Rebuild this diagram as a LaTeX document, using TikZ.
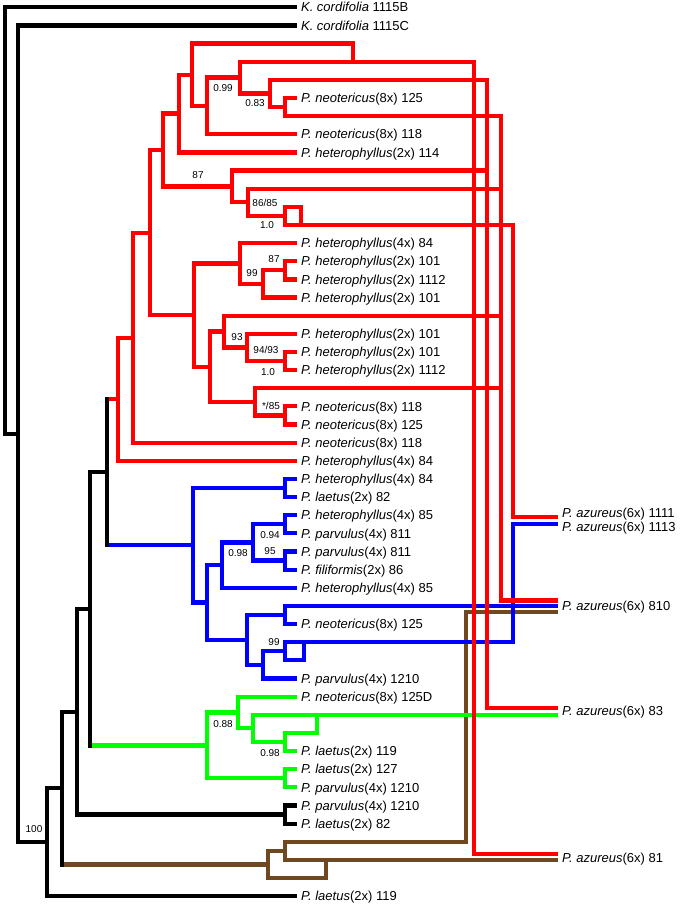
\documentclass[tikz,border=0pt]{standalone}
\usepackage{fontspec}
\setmainfont{Liberation Sans}
\usepackage{tikz}
\usepackage{xcolor}
\definecolor{brn}{RGB}{112,72,32}

\begin{document}
\begin{tikzpicture}[x=1pt,y=-18.14pt,line width=4.2pt,
    leaf/.style={anchor=west,inner xsep=2pt,inner ysep=0pt,text height=9.4pt,text depth=0pt,
      font=\fontsize{13}{15}\selectfont},
    supp/.style={inner sep=0pt,font=\fontsize{10}{12}\selectfont}]
  \useasboundingbox (0,-0.4024) rectangle (680,49.487);

  % tips
  \node [leaf] (t0) at (297,0) {\textit{K. cordifolia} 1115B};
  \node [leaf] (t1) at (297,1) {\textit{K. cordifolia} 1115C};
  \node [leaf] (t5) at (297,5) {\textit{P. neotericus}(8x) 125};
  \node [leaf] (t7) at (297,7) {\textit{P. neotericus}(8x) 118};
  \node [leaf] (t8) at (297,8) {\textit{P. heterophyllus}(2x) 114};
  \node [leaf] (t13) at (297,13) {\textit{P. heterophyllus}(4x) 84};
  \node [leaf] (t14) at (297,14) {\textit{P. heterophyllus}(2x) 101};
  \node [leaf] (t15) at (297,15) {\textit{P. heterophyllus}(2x) 1112};
  \node [leaf] (t16) at (297,16) {\textit{P. heterophyllus}(2x) 101};
  \node [leaf] (t18) at (297,18) {\textit{P. heterophyllus}(2x) 101};
  \node [leaf] (t19) at (297,19) {\textit{P. heterophyllus}(2x) 101};
  \node [leaf] (t20) at (297,20) {\textit{P. heterophyllus}(2x) 1112};
  \node [leaf] (t22) at (297,22) {\textit{P. neotericus}(8x) 118};
  \node [leaf] (t23) at (297,23) {\textit{P. neotericus}(8x) 125};
  \node [leaf] (t24) at (297,24) {\textit{P. neotericus}(8x) 118};
  \node [leaf] (t25) at (297,25) {\textit{P. heterophyllus}(4x) 84};
  \node [leaf] (t26) at (297,26) {\textit{P. heterophyllus}(4x) 84};
  \node [leaf] (t27) at (297,27) {\textit{P. laetus}(2x) 82};
  \node [leaf] (t28) at (297,28) {\textit{P. heterophyllus}(4x) 85};
  \node [leaf] (t29) at (297,29) {\textit{P. parvulus}(4x) 811};
  \node [leaf] (t30) at (297,30) {\textit{P. parvulus}(4x) 811};
  \node [leaf] (t31) at (297,31) {\textit{P. filiformis}(2x) 86};
  \node [leaf] (t32) at (297,32) {\textit{P. heterophyllus}(4x) 85};
  \node [leaf] (t34) at (297,34) {\textit{P. neotericus}(8x) 125};
  \node [leaf] (t37) at (297,37) {\textit{P. parvulus}(4x) 1210};
  \node [leaf] (t38) at (297,38) {\textit{P. neotericus}(8x) 125D};
  \node [leaf] (t41) at (297,41) {\textit{P. laetus}(2x) 119};
  \node [leaf] (t42) at (297,42) {\textit{P. laetus}(2x) 127};
  \node [leaf] (t43) at (297,43) {\textit{P. parvulus}(4x) 1210};
  \node [leaf] (t44) at (297,44) {\textit{P. parvulus}(4x) 1210};
  \node [leaf] (t45) at (297,45) {\textit{P. laetus}(2x) 82};
  \node [leaf] (t49) at (297,49) {\textit{P. laetus}(2x) 119};

  % hybrid tips
  \node [leaf] (a1111) at (558,27.88) {\textit{P. azureus}(6x) 1111};
  \node [leaf] (a1113) at (558,28.65) {\textit{P. azureus}(6x) 1113};
  \node [leaf] (a810) at (558,33) {\textit{P. azureus}(6x) 810};
  \node [leaf] (a83) at (558,38.79) {\textit{P. azureus}(6x) 83};
  \node [leaf] (a81) at (558,46.9) {\textit{P. azureus}(6x) 81};
  \coordinate (e1111) at (558,28.1);
  \coordinate (e1113) at (558,28.48);
  \coordinate (e810r) at (558,32.7);
  \coordinate (e810n) at (558,33.34);
  \coordinate (e83r) at (558,38.63);
  \coordinate (e83g) at (558,39);
  \coordinate (e81r) at (558,46.68);
  \coordinate (e81n) at (558,47);

  % internal nodes
  \coordinate (root) at (5,11.76);
  \coordinate (nA) at (18,23.51);
  \coordinate (nB) at (47,46.02);
  \coordinate (nC) at (62,43.04);
  \coordinate (nD) at (77,38.83);
  \coordinate (nE) at (90,33.16);
  \coordinate (nF) at (107,25.63);
  \coordinate (nK) at (285,44.5);

  \coordinate (r0) at (118,21.6);
  \coordinate (r1) at (133,18.21);
  \coordinate (r2) at (150,12.42);
  \coordinate (r3) at (163,7.87);
  \coordinate (r5) at (179,5.86);
  \coordinate (r7) at (192,3.72);
  \coordinate (r8) at (207,5.44);
  \coordinate (r9) at (240,3.875);
  \coordinate (r10) at (270,4.75);
  \coordinate (r11) at (285,5.5);
  \coordinate (r6) at (232,9.875);
  \coordinate (r12) at (248,10.75);
  \coordinate (r13) at (285,11.5);
  \coordinate (r4) at (194,16.97);
  \coordinate (r14) at (240,14.125);
  \coordinate (r16) at (263,15.25);
  \coordinate (r17) at (285,14.5);
  \coordinate (r15) at (210,19.81);
  \coordinate (r18) at (224,17.875);
  \coordinate (r20) at (247,18.75);
  \coordinate (r21) at (285,19.5);
  \coordinate (r19) at (255,21.75);
  \coordinate (r22) at (285,22.5);

  \coordinate (b0) at (193,29.66);
  \coordinate (b1) at (285,26.5);
  \coordinate (b2) at (207,32.81);
  \coordinate (b3) at (222,30.75);
  \coordinate (b5) at (253,29.5);
  \coordinate (b6) at (285,28.5);
  \coordinate (b7) at (285,30.5);
  \coordinate (b4) at (247,34.875);
  \coordinate (b8) at (285,33.5);
  \coordinate (b9) at (263,36.25);
  \coordinate (b10) at (285,35.5);

  \coordinate (g0) at (207,40.69);
  \coordinate (g1) at (238,38.875);
  \coordinate (g3) at (253,39.75);
  \coordinate (g4) at (285,40.5);
  \coordinate (g2) at (285,42.5);

  \coordinate (n0) at (268,47.25);
  \coordinate (n1) at (285,46.5);

  % brown
  \draw [brn] (nC) |- (n0);
  \draw [brn] (n0) |- (n1);
  \draw [brn] (n0) |- (326,48) -- (326,47);
  \draw [brn] (n1) |- (466,46) |- (e810n);
  \draw [brn] (n1) |- (e81n);

  % green
  \draw [green] (nE) |- (g0);
  \draw [green] (g0) |- (g1);
  \draw [green] (g0) |- (g2);
  \draw [green] (g1) |- (t38.west);
  \draw [green] (g1) |- (g3);
  \draw [green] (g3) |- (e83g);
  \draw [green] (g3) |- (g4);
  \draw [green] (g4) |- (317,40) -- (317,39);
  \draw [green] (g4) |- (t41.west);
  \draw [green] (g2) |- (t42.west);
  \draw [green] (g2) |- (t43.west);

  % blue
  \draw [blue] (nF) |- (b0);
  \draw [blue] (b0) |- (b1);
  \draw [blue] (b0) |- (b2);
  \draw [blue] (b1) |- (t26.west);
  \draw [blue] (b1) |- (t27.west);
  \draw [blue] (b2) |- (b3);
  \draw [blue] (b2) |- (b4);
  \draw [blue] (b3) |- (b5);
  \draw [blue] (b3) |- (t32.west);
  \draw [blue] (b5) |- (b6);
  \draw [blue] (b5) |- (b7);
  \draw [blue] (b6) |- (t28.west);
  \draw [blue] (b6) |- (t29.west);
  \draw [blue] (b7) |- (t30.west);
  \draw [blue] (b7) |- (t31.west);
  \draw [blue] (b4) |- (b8);
  \draw [blue] (b4) |- (b9);
  \draw [blue] (b8) |- (a810.west);
  \draw [blue] (b8) |- (t34.west);
  \draw [blue] (b9) |- (b10);
  \draw [blue] (b9) |- (t37.west);
  \draw [blue] (b10) |- (513,35) |- (e1113);
  \draw [blue] (b10) |- (304,36) -- (304,35);

  % red
  \draw [red] (nF) |- (r0);
  \draw [red] (r0) |- (r1);
  \draw [red] (r0) |- (t25.west);
  \draw [red] (r1) |- (r2);
  \draw [red] (r1) |- (t24.west);
  \draw [red] (r2) |- (r3);
  \draw [red] (r2) |- (r4);
  \draw [red] (r3) |- (r5);
  \draw [red] (r3) |- (r6);
  \draw [red] (r5) |- (r7);
  \draw [red] (r5) |- (t8.west);
  \draw [red] (r7) |- (353,2) -- (353,3);
  \draw [red] (r7) |- (r8);
  \draw [red] (r8) |- (r9);
  \draw [red] (r8) |- (t7.west);
  \draw [red] (r9) |- (474,3) |- (e81r);
  \draw [red] (r9) |- (r10);
  \draw [red] (r10) |- (487,4) |- (e83r);
  \draw [red] (r10) |- (r11);
  \draw [red] (r11) |- (t5.west);
  \draw [red] (r11) |- (501,6) |- (e810r);
  \draw [red] (r6) |- (487,9);
  \draw [red] (r6) |- (r12);
  \draw [red] (r12) |- (501,10);
  \draw [red] (r12) |- (r13);
  \draw [red] (r13) |- (301,11) -- (301,12);
  \draw [red] (r13) |- (513,12) |- (e1111);
  \draw [red] (r4) |- (r14);
  \draw [red] (r4) |- (r15);
  \draw [red] (r14) |- (t13.west);
  \draw [red] (r14) |- (r16);
  \draw [red] (r16) |- (r17);
  \draw [red] (r16) |- (t16.west);
  \draw [red] (r17) |- (t14.west);
  \draw [red] (r17) |- (t15.west);
  \draw [red] (r15) |- (r18);
  \draw [red] (r15) |- (r19);
  \draw [red] (r18) |- (501,17);
  \draw [red] (r18) |- (r20);
  \draw [red] (r20) |- (t18.west);
  \draw [red] (r20) |- (r21);
  \draw [red] (r21) |- (t19.west);
  \draw [red] (r21) |- (t20.west);
  \draw [red] (r19) |- (501,21);
  \draw [red] (r19) |- (r22);
  \draw [red] (r22) |- (t22.west);
  \draw [red] (r22) |- (t23.west);

  % backbone
  \draw (root) |- (t0.west);
  \draw (root) |- (nA);
  \draw (nA) |- (t1.west);
  \draw (nA) |- (nB);
  \draw (nB) |- (nC);
  \draw (nB) |- (t49.west);
  \draw (nC) |- (nD);
  \draw [line cap=rect] (nC) -- (nC |- n0);
  \draw (nD) |- (nE);
  \draw (nD) |- (nK);
  \draw (nK) |- (t44.west);
  \draw (nK) |- (t45.west);
  \draw (nE) |- (nF);
  \draw [line cap=rect] (nE) -- (nE |- g0);
  \draw [line cap=rect] (nF |- r0) -- (nF |- b0);

  % support values
  \node [supp] (s1) at (223,4.45) {0.99};
  \node [supp] (s2) at (255,5.28) {0.83};
  \node [supp] (s3) at (198,9.24) {87};
  \node [supp] (s4) at (265,10.79) {86/85};
  \node [supp] (s5) at (267,12.0) {1.0};
  \node [supp] (s6) at (274,13.88) {87};
  \node [supp] (s7) at (252,14.65) {99};
  \node [supp] (s8) at (237,18.17) {93};
  \node [supp] (s9) at (266,18.89) {94/93};
  \node [supp] (s10) at (268,20.1) {1.0};
  \node [supp] (s11) at (271,21.98) {*/85};
  \node [supp] (s12) at (270,29.09) {0.94};
  \node [supp] (s13) at (270,29.97) {95};
  \node [supp] (s14) at (238,30.08) {0.98};
  \node [supp] (s15) at (274,34.99) {99};
  \node [supp] (s16) at (223,39.51) {0.88};
  \node [supp] (s17) at (270,41.11) {0.98};
  \node [supp] (s18) at (34,45.3) {100};
\end{tikzpicture}
\end{document}
